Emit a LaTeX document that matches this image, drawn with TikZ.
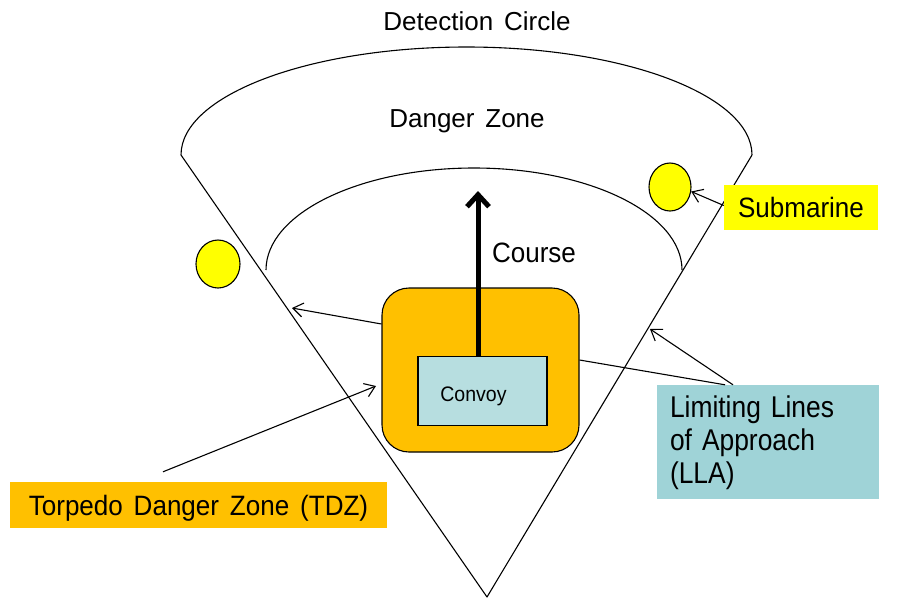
\documentclass[tikz,border=0pt]{standalone}
\usepackage{fontspec}
\setmainfont{Liberation Sans}[WordSpace=1.5]
% slightly condensed faces for the taller labels
\newfontfamily\narrowsans{Liberation Sans}[FakeStretch=0.93, WordSpace=1.5]
\newfontfamily\narrowersans{Liberation Sans}[FakeStretch=0.88, WordSpace=1.5]
\usetikzlibrary{arrows.meta,shapes.geometric}
\definecolor{subyellow}{HTML}{FFFF00}
\definecolor{tdzorange}{HTML}{FFC000}
\definecolor{convoyblue}{HTML}{B7DEE0}
\definecolor{llateal}{HTML}{9FD3D7}

\begin{document}
\begin{tikzpicture}[x=1pt,y=-1pt,
  thinline/.style={line width=1.1pt},
  pointer/.style={thinline,-{Straight Barb[length=10pt,width=14pt]}},
  txt/.style={font=\fontsize{26}{31}\selectfont, inner sep=0pt, text depth=0pt},
  tall/.style={font=\narrowsans\fontsize{28}{33}\selectfont, inner sep=0pt, text depth=0pt},
  subcircle/.style={ellipse, draw, thinline, fill=subyellow, inner sep=0pt},
  tagbox/.style={rectangle, tall},
]

\useasboundingbox (0,0) rectangle (899,598);

% detection cone with its outer arc
\coordinate (apex) at (487,597);
\coordinate (lt) at (181,155);
\coordinate (rt) at (752,155);
\draw[thinline, line join=round] (rt) -- (apex) -- (lt)
  arc[start angle=180, end angle=360, x radius=285.5, y radius=108];

% inner arc of the danger zone
\draw[thinline] (266,270) arc[start angle=180, end angle=360, x radius=208, y radius=102];

% titles
\node[txt] (detect) at (477,21) {Detection Circle};
\node[txt] (danger) at (467,119) {Danger Zone};
\node[tall] (course) at (534,253) {Course};

% submarines
\node[subcircle, minimum width=44pt, minimum height=48pt] (subL) at (218,264) {};
\node[subcircle, minimum width=42pt, minimum height=48pt] (subR) at (670,187) {};

% torpedo danger zone around the convoy
\node[draw, thinline, fill=tdzorange, rounded corners=27pt,
      minimum width=197pt, minimum height=164pt] (tdz) at (480.5,370) {};
\node[draw, line width=1.4pt, fill=convoyblue, minimum width=129pt, minimum height=69pt,
      font=\narrowsans\fontsize{21}{25}\selectfont, text height=21.4pt, text depth=0pt]
  (convoy) at (482.5,391) {Convoy\kern18pt};

% course arrow
\coordinate (coursetip) at (478,191);
\draw[line width=5pt, -{Straight Barb[length=12pt,width=22pt]}]
  (coursetip |- convoy.north) -- (coursetip);

% label boxes
\node[tagbox, fill=tdzorange, minimum width=377pt, minimum height=46pt] (tdztag) at (198.5,505)
  {Torpedo Danger Zone (TDZ)};
\node[tagbox, fill=subyellow, minimum width=154pt, minimum height=45pt] (subtag) at (801,207.5)
  {Submarine};
\node[tagbox, fill=llateal, minimum width=222pt, minimum height=114pt, text width=196pt,
      align=left, font=\narrowersans\fontsize{30}{33.3}\selectfont,
      text height=22pt, text depth=72pt] (llatag) at (768,442)
  {Limiting Lines\\of Approach\\(LLA)};

% pointers
\coordinate (lleft) at (292,308);
\coordinate (lright) at (650,329);
\coordinate (tdzhit) at (376,386);
\draw[pointer] (tdz.west |- 0,324) -- (lleft);
\draw[pointer] (733,0 |- llatag.north) -- (lright);
\draw[thinline] (725,0 |- llatag.north) -- (tdz.east |- 0,360);
\draw[pointer] ([xshift=-35.5pt,yshift=10pt]tdztag.north) -- (tdzhit);
\draw[pointer] ([yshift=2pt]subtag.west) -- (subR.-12);
\end{tikzpicture}
\end{document}
